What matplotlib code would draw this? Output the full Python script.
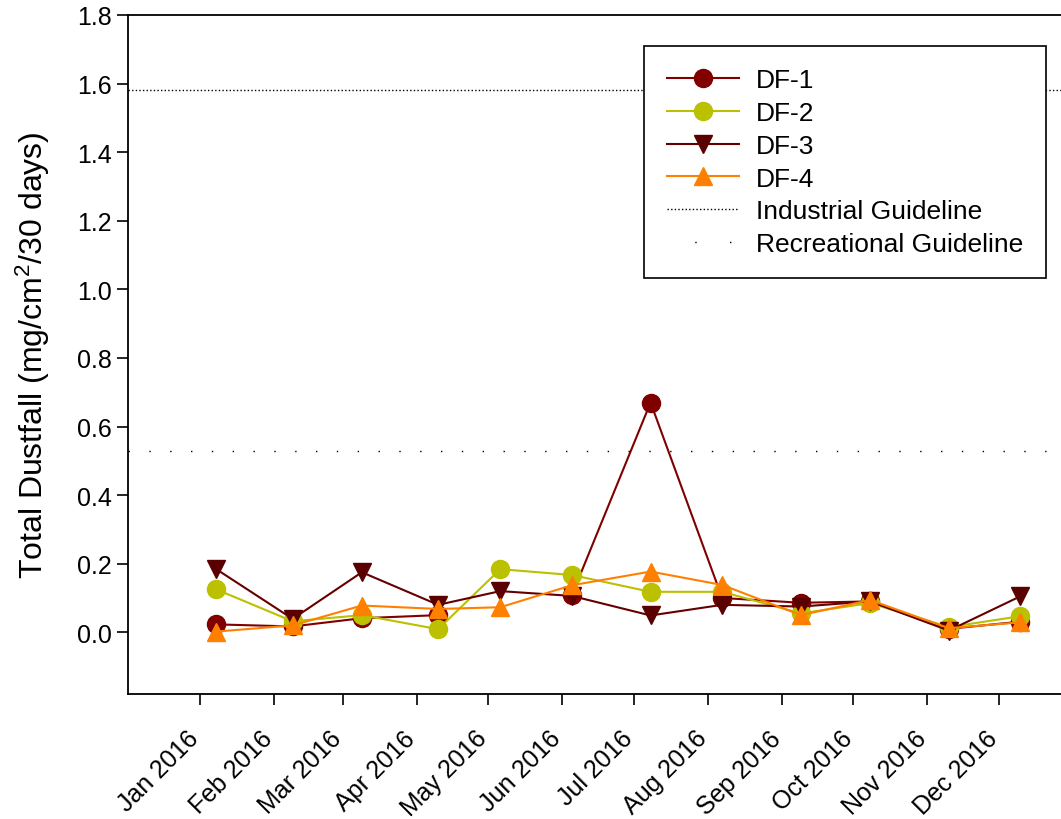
import matplotlib
matplotlib.use("Agg")
import matplotlib.pyplot as plt
import matplotlib.dates as mdates
import matplotlib.transforms as mtransforms
from matplotlib.lines import Line2D
import numpy as np
from datetime import datetime

plt.rcParams['font.family'] = ['Liberation Sans', 'DejaVu Sans']
plt.rcParams['mathtext.default'] = 'regular'

# sampling dates and dustfall values (mg/cm2/30 days)
dates = ["2016-01-08", "2016-02-09", "2016-03-09", "2016-04-10", "2016-05-06", "2016-06-05",
         "2016-07-08", "2016-08-07", "2016-09-09", "2016-10-08", "2016-11-10", "2016-12-10"]
df1 = [0.023, 0.017, 0.041, 0.050, np.nan, 0.108, 0.670, 0.100, 0.086, 0.090, 0.010, 0.031]
df2 = [0.125, 0.032, 0.050, 0.009, 0.184, 0.167, 0.118, 0.118, 0.055, 0.085, 0.015, 0.047]
df3 = [0.184, 0.039, 0.175, 0.080, 0.120, 0.106, 0.049, 0.080, 0.075, 0.090, 0.005, 0.105]
df4 = [0.002, 0.020, 0.078, 0.068, 0.073, 0.137, 0.177, 0.138, 0.050, 0.094, 0.012, 0.029]
industrial = 1.58
recreational = 0.53

x = [datetime.strptime(d, "%Y-%m-%d") for d in dates]

fig = plt.figure(figsize=(10.61, 8.20), dpi=100)
ax = fig.add_axes([128 / 1061, 1 - 695 / 820, 1 - 128 / 1061, (695 - 16) / 820])

l1, = ax.plot(x, df1, color='#800000', lw=1.5, marker='o', ms=13, mec='#800000')
l2, = ax.plot(x, df2, color='#BBC000', lw=1.5, marker='o', ms=13, mec='#BBC000')
l3, = ax.plot(x, df3, color='#660000', lw=1.5, marker='v', ms=13, mec='#5A0000', mfc='#5A0000')
l4, = ax.plot(x, df4, color='#FF8000', lw=1.5, marker='^', ms=13, mec='#FF8000')
ax.axhline(industrial, color='black', lw=1.0, ls=(0, (1, 1.6)))
ax.axhline(recreational, color='black', lw=1.0, ls=(0, (1, 14)))

ax.set_xlim(datetime(2015, 12, 2), datetime(2016, 12, 27))
ax.set_ylim(-0.18, 1.8)
ax.set_yticks(np.arange(0, 1.81, 0.2))
ax.set_yticklabels([f"{v:.1f}" for v in np.arange(0, 1.81, 0.2)])
ax.xaxis.set_major_locator(mdates.MonthLocator())
ax.xaxis.set_major_formatter(mdates.DateFormatter('%b %Y'))
ax.tick_params(axis='both', direction='out', length=8, width=1.2, labelsize=18, colors='black')
ax.tick_params(axis='x', pad=21)
shift = mtransforms.ScaledTranslation(-5 / 100, 0, fig.dpi_scale_trans)
for lab in ax.get_xticklabels():
    lab.set_rotation(45)
    lab.set_ha('right')
    lab.set_va('center')
    lab.set_rotation_mode('anchor')
    lab.set_transform(lab.get_transform() + shift)

ax.spines['right'].set_visible(False)
for s in ['left', 'top', 'bottom']:
    ax.spines[s].set_linewidth(1.3)

ax.set_ylabel('Total Dustfall (mg/cm$^2$/30 days)', fontsize=23, labelpad=18)

# legend proxies for the guideline dot patterns
ind_h = Line2D([], [], color='black', lw=1.0, ls=(0, (1, 1.6)))
rec_h = Line2D([], [], color='black', lw=1.0, ls=(5, (1, 24)))
leg = ax.legend([l1, l2, l3, l4, ind_h, rec_h],
                ['DF-1', 'DF-2', 'DF-3', 'DF-4', 'Industrial Guideline', 'Recreational Guideline'],
                loc='upper right', bbox_to_anchor=(1046 / 1061, 1 - 47 / 820),
                bbox_transform=fig.transFigure, borderaxespad=0, fontsize=19,
                fancybox=False, edgecolor='black', framealpha=1, numpoints=1,
                handlelength=2.75, handletextpad=0.65, labelspacing=0.33,
                borderpad=0.85)
leg.get_frame().set_linewidth(1.2)

fig.savefig("out.png", dpi=100)
